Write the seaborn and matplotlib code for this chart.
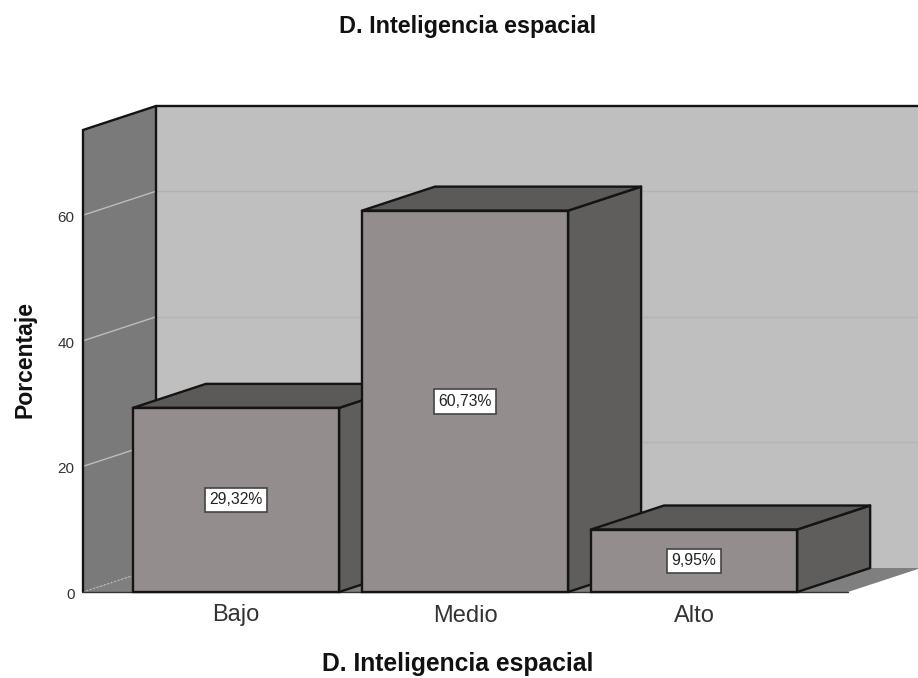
import matplotlib
matplotlib.use('Agg')
import matplotlib.pyplot as plt
from matplotlib.patches import Polygon
from matplotlib.transforms import Affine2D
import seaborn as sns

categorias = ['Bajo', 'Medio', 'Alto']
porcentajes = [29.32, 60.73, 9.95]
etiquetas = ['29,32%', '60,73%', '9,95%']
marcas_y = [0, 20, 40, 60]
titulo = 'D. Inteligencia espacial'
titulo_y = 'Porcentaje'

sns.set_theme(style='white')
plt.rcParams['font.family'] = ['Liberation Sans', 'DejaVu Sans']

ancho, alto = 918, 678
fig = plt.figure(figsize=(ancho / 100, alto / 100), dpi=100, facecolor='white')
# ejes colocados en pixeles: x 83-848, y 130-592
ax = fig.add_axes([83 / ancho, 1 - 592 / alto, 765 / ancho, 462 / alto])
ax.patch.set_alpha(0)

negro = '#141414'
sns.barplot(x=categorias, y=porcentajes, width=0.9, color='#938e8d', saturation=1,
            edgecolor=negro, linewidth=1.7, ax=ax)
ax.set_xlim(-0.668, 2.672)
ax.set_ylim(0, 73.57)
sns.despine(ax=ax, left=True, bottom=True)

# profundidad del efecto 3D pasada a unidades de datos
px_x = 765 / (ax.get_xlim()[1] - ax.get_xlim()[0])
px_y = 462 / ax.get_ylim()[1]
dx = 73 / px_x
dy = 24 / px_y
x0, x1 = ax.get_xlim()
y1 = ax.get_ylim()[1]


def cara(puntos, color, z, borde='none', lw=0):
    ax.add_patch(Polygon(puntos, closed=True, facecolor=color, edgecolor=borde, linewidth=lw,
                         zorder=z, clip_on=False, joinstyle='round'))


# paredes y suelo
cara([(x0 + dx, dy), (x1 + dx, dy), (x1 + dx, y1 + dy), (x0 + dx, y1 + dy)], '#bfbfbf', 0.1)
cara([(x0, 0), (x0 + dx, dy), (x0 + dx, y1 + dy), (x0, y1)], '#7a7a7a', 0.2)
cara([(x0, 0), (x1, 0), (x1 + dx, dy), (x0 + dx, dy)], '#7f7f7f', 0.2)

for v in marcas_y[1:]:
    ax.plot([x0 + dx, x1 + dx], [v + dy, v + dy], color='#b2b2b2', lw=1, zorder=0.3, clip_on=False)
    ax.plot([x0, x0 + dx], [v, v + dy], color='#bdbdbd', lw=1, zorder=0.3, clip_on=False)
ax.plot([x0, x0 + dx], [0, dy], color='#bcbcbc', lw=1, ls=':', zorder=0.3, clip_on=False)

ax.plot([x0, x0, x0 + dx, x1 + dx], [0, y1, y1 + dy, y1 + dy], color=negro, lw=1.7, zorder=0.5,
        clip_on=False, solid_joinstyle='miter')
ax.plot([x0 + dx, x0 + dx], [dy, y1 + dy], color=negro, lw=1.7, zorder=0.5, clip_on=False)
ax.plot([x0, x1], [0, 0], color='#333333', lw=1, zorder=0.5, clip_on=False)

# caras superior y lateral de cada barra, de izquierda a derecha
for i, barra in enumerate(ax.patches[:3]):
    izq = barra.get_x()
    der = izq + barra.get_width()
    h = barra.get_height()
    z = 3 + 2 * i
    cara([(der, 0), (der + dx, dy), (der + dx, h + dy), (der, h)], '#605e5c', z, negro, 1.7)
    cara([(izq, h), (der, h), (der + dx, h + dy), (izq + dx, h + dy)], '#5c5a58', z, negro, 1.7)
    barra.set_zorder(z + 1)
    barra.set_clip_on(False)
    ax.text(izq + barra.get_width() / 2, h / 2, etiquetas[i], ha='center', va='center',
            fontsize=11.3, color='#222222', zorder=20,
            bbox=dict(boxstyle='square,pad=0.3', facecolor='white', edgecolor='#444444', linewidth=1.2))

ax.set_yticks(marcas_y)
ax.set_yticklabels([str(v) for v in marcas_y], fontsize=11, color='#333333')
ax.tick_params(axis='y', length=0, pad=6)
ax.tick_params(axis='x', length=0, pad=9, labelsize=17, labelcolor='#333333')
# numeros del eje un poco mas abajo, como en el original
for lab in ax.get_yticklabels():
    lab.set_transform(lab.get_transform() + Affine2D().translate(0, -1.5))

ax.set_xlabel(titulo, fontsize=17.7, fontweight='bold', color='#111111')
ax.xaxis.set_label_coords(0.49, -0.1555)
ax.xaxis.label.set_va('center')
ax.set_ylabel(titulo_y, fontsize=16.6, fontweight='bold', color='#111111')
ax.yaxis.set_label_coords(-0.0755, 0.504)
ax.yaxis.label.set_va('center')
fig.text(467.5 / ancho, 1 - 27 / alto, titulo, ha='center', va='center', fontsize=16.8,
         fontweight='bold', color='#111111')

fig.savefig('out.png', dpi=100)
